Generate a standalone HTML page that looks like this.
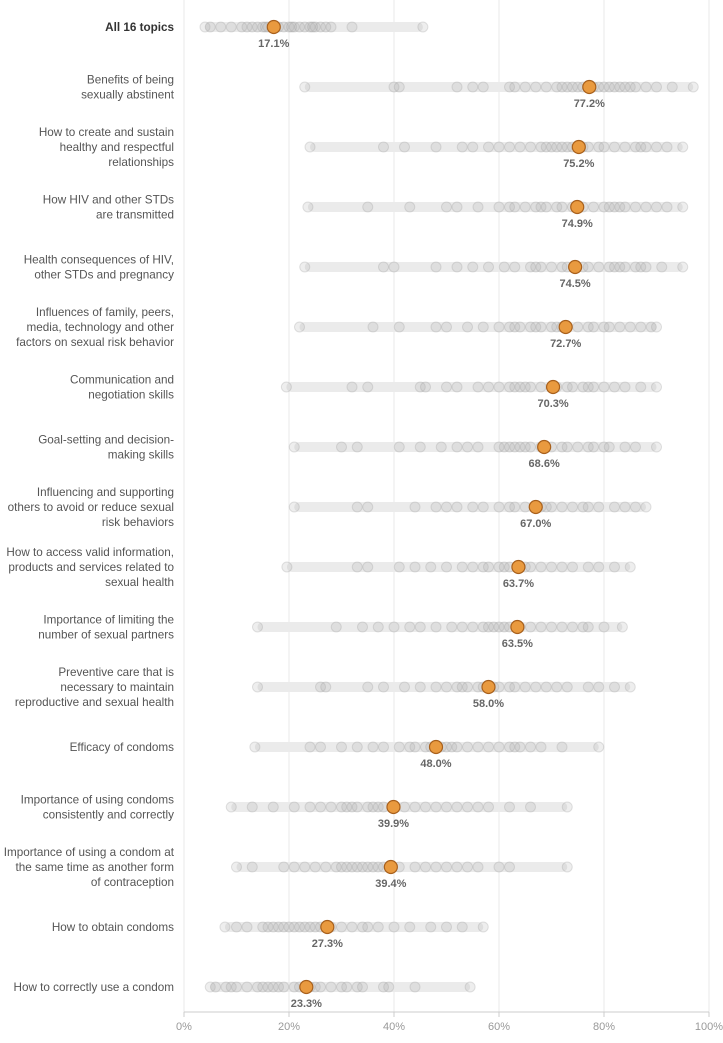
<!DOCTYPE html>
<html><head><meta charset="utf-8">
<style>
html,body{margin:0;padding:0;background:#fff;}
body{width:723px;height:1038px;overflow:hidden;font-family:"Liberation Sans",Arial,sans-serif;}
</style></head>
<body>
<svg id="chart" width="723" height="1038" xmlns="http://www.w3.org/2000/svg" font-family="Liberation Sans, Arial, sans-serif"></svg>
<script>
const topics = [
 ["All 16 topics"],
 ["Benefits of being","sexually abstinent"],
 ["How to create and sustain","healthy and respectful","relationships"],
 ["How HIV and other STDs","are transmitted"],
 ["Health consequences of HIV,","other STDs and pregnancy"],
 ["Influences of family, peers,","media, technology and other","factors on sexual risk behavior"],
 ["Communication and","negotiation skills"],
 ["Goal-setting and decision-","making skills"],
 ["Influencing and supporting","others to avoid or reduce sexual","risk behaviors"],
 ["How to access valid information,","products and services related to","sexual health"],
 ["Importance of limiting the","number of sexual partners"],
 ["Preventive care that is","necessary to maintain","reproductive and sexual health"],
 ["Efficacy of condoms"],
 ["Importance of using condoms","consistently and correctly"],
 ["Importance of using a condom at","the same time as another form","of contraception"],
 ["How to obtain condoms"],
 ["How to correctly use a condom"]
];
const medians = [17.1,77.2,75.2,74.9,74.5,72.7,70.3,68.6,67.0,63.7,63.5,58.0,48.0,39.9,39.4,27.3,23.3];
const states = [
 [4,5,7,9,11,12,13,14,15,15.5,16,17,18,19,20,20.5,21,22,23,24,24.5,25,26,27,28,32,45.5],
 [23,40,41,52,55,57,62,63,65,67,69,71,72,73,74,75,76,78,79,80,81,82,83,84,85,86,88,90,93,97],
 [24,38,42,48,53,55,58,60,62,64,66,68,69,70,71,72,73,74,76,77,79,80,82,84,86,87,88,90,92,95],
 [23.6,35,43,50,52,56,60,62,63,65,67,68,69,71,72,74,76,78,80,81,82,83,84,86,88,90,92,95],
 [23,38,40,48,52,55,58,61,63,66,67,68,70,72,73,76,77,79,81,82,83,84,86,87,88,91,95],
 [22,36,41,48,50,54,57,60,62,63,64,66,67,68,70,71,72,73,75,77,78,80,81,83,85,87,89,90],
 [19.5,32,35,45,46,50,52,56,58,60,62,63,64,65,66,68,70,71,73,74,76,77,78,80,82,84,87,90],
 [21,30,33,41,45,49,52,54,56,60,61,62,63,64,65,66,68,70,72,73,75,77,78,80,81,84,86,90],
 [21,33,35,44,48,50,52,55,57,60,62,63,65,67,68,69,70,72,74,76,77,79,82,84,86,88],
 [19.6,33,35,41,44,47,50,53,55,57,58,60,61,62,64,65,66,68,70,72,74,77,79,82,85],
 [14,29,34,37,40,43,45,48,51,53,55,57,58,59,60,61,62,64,66,68,70,72,74,76,77,80,83.5],
 [14,26,27,35,38,42,45,48,50,52,53,54,56,57,59,60,62,63,65,67,69,71,73,77,79,82,85],
 [13.5,24,26,30,33,36,38,41,43,44,46,47,49,50,51,52,54,56,58,60,62,63,64,66,68,72,79],
 [9,13,17,21,24,26,28,30,31,32,33,35,36,37,38,40,42,44,46,48,50,52,54,56,58,62,66,73],
 [10,13,19,21,23,25,27,29,30,31,32,33,34,35,36,37,38,41,44,46,48,50,52,54,56,60,62,73],
 [7.8,10,12,15,16,17,18,19,20,21,22,23,24,25,26,27,28,30,32,34,35,37,40,43,47,50,53,57],
 [5,6,8,9,10,12,14,15,16,17,18,19,21,22,24,25,26,28,30,31,33,34,38,39,44,54.5]
];
const ticks = [0,20,40,60,80,100];

const NS="http://www.w3.org/2000/svg";
const svg=document.getElementById('chart');
const x0=184,x1=709;
const xs=v=>x0+(x1-x0)*v/100;
const ys=i=>27+60*i;
function mk(t,a,p){const e=document.createElementNS(NS,t);for(const k in a)e.setAttribute(k,a[k]);(p||svg).appendChild(e);return e;}

ticks.forEach(t=>{
 const g=mk('line',{x1:xs(t),x2:xs(t),y1:0,y2:1012,stroke:'#f1f1f1','stroke-width':1.5});
 
 
 const tl=mk('text',{x:xs(t),y:1030,'text-anchor':'middle','font-size':11,fill:'#999'});
 tl.textContent=t+'%';
 
 
 const tk=mk('line',{x1:xs(t),x2:xs(t),y1:1012,y2:1017,stroke:'#ccc'});
 
 
});
const ax=mk('line',{x1:x0,x2:x1,y1:1012,y2:1012,stroke:'#ccc'});



topics.forEach((lines,i)=>{
 const y=ys(i);
 const vals=states[i];
 const mn=Math.min(...vals),mx=Math.max(...vals);
 const lbl=mk('text',{x:174,'text-anchor':'end','font-size':11.7,fill:i==0?'#333':'#555','font-weight':i==0?'bold':'normal'});
 
 
 const n=lines.length;
 lines.forEach((s,j)=>{const ts=mk('tspan',{x:174,y:y+4+(j-(n-1)/2)*15},lbl);ts.textContent=s;});
 const bar=mk('rect',{x:xs(mn),y:y-5,width:xs(mx)-xs(mn),height:10,rx:5,fill:'#ebebeb'});
 
 
 vals.forEach(v=>{
  const c=mk('circle',{cx:xs(v),cy:y,r:5,fill:'rgba(170,170,170,0.2)',stroke:'rgba(150,150,150,0.28)','stroke-width':1});
  
  
 });
 const m=mk('circle',{cx:xs(medians[i]),cy:y,r:6.5,fill:'#e99a3f',stroke:'#a8601c','stroke-width':1.2});
 
 
 const vt=mk('text',{x:xs(medians[i]),y:y+20,'text-anchor':'middle','font-size':11,'font-weight':'bold',fill:'#666'});
 vt.textContent=medians[i].toFixed(1)+'%';
 
 
});
</script>
</body></html>
